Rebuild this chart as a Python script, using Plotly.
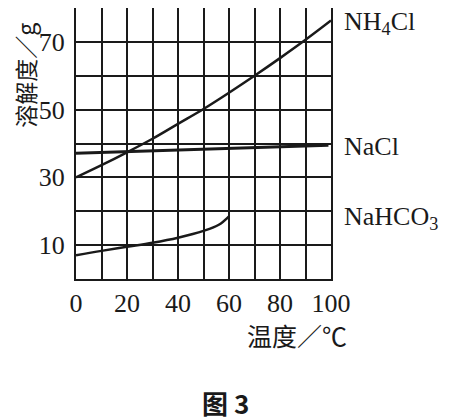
import plotly.graph_objects as go

# temperature (°C) and solubility (g)
t_nh4cl = [0, 10, 20, 30, 40, 50, 60, 70, 80, 90, 100]
s_nh4cl = [30.0, 33.6, 37.4, 41.4, 45.8, 50.2, 55.0, 60.0, 65.2, 70.6, 76.3]

t_nacl = [0, 25, 50, 75, 99]
s_nacl = [37.1, 37.7, 38.3, 38.9, 39.5]

t_nahco3 = [0, 10, 20, 30, 40, 50, 56, 60]
s_nahco3 = [7.0, 8.3, 9.5, 10.7, 12.2, 14.2, 16.0, 18.5]

x_ticks = list(range(0, 101, 10))
x_labels = ["0", "", "20", "", "40", "", "60", "", "80", "", "100"]
y_ticks = list(range(0, 81, 10))
y_labels = ["", "10", "", "30", "", "50", "", "70", ""]

INK = "#1a1a1a"
SERIF = "Liberation Serif"
CJK = "Noto Sans CJK SC"

fig = go.Figure()
fig.add_trace(go.Scatter(x=t_nh4cl, y=s_nh4cl, mode="lines",
                         line=dict(color=INK, width=2.5, shape="spline")))
fig.add_trace(go.Scatter(x=t_nacl, y=s_nacl, mode="lines",
                         line=dict(color=INK, width=3)))
fig.add_trace(go.Scatter(x=t_nahco3, y=s_nahco3, mode="lines",
                         line=dict(color=INK, width=2.5, shape="spline")))

axis_common = dict(
    showgrid=True, gridcolor=INK, gridwidth=1.5,
    showline=True, linecolor=INK, linewidth=2, mirror=True,
    zeroline=False, ticks="", automargin=False,
    tickfont=dict(family=SERIF, size=26, color=INK),
)

fig.update_xaxes(range=[0, 100], tickmode="array", tickvals=x_ticks,
                 ticktext=x_labels, ticklabelstandoff=0, **axis_common)
fig.update_yaxes(range=[0, 80], tickmode="array", tickvals=y_ticks,
                 ticktext=y_labels, ticklabelstandoff=4, **axis_common)

labels = [
    ("NH<sub>4</sub>Cl", 75.5),
    ("NaCl", 39.0),
    ("NaHCO<sub>3</sub>", 18.0),
]
annotations = []
for txt, yv in labels:
    annotations.append(dict(text=txt, xref="paper", yref="y", x=1.045, y=yv,
                            xanchor="left", yanchor="middle", showarrow=False,
                            font=dict(family=SERIF, size=26, color=INK)))

annotations += [
    dict(text="溶解度／g", xref="paper", yref="paper", x=-0.2, y=0.75,
         textangle=-90, showarrow=False, xanchor="center", yanchor="middle",
         font=dict(family=CJK, size=23, color=INK)),
    dict(text="温度／℃", xref="paper", yref="paper", x=0.865, y=-0.208,
         showarrow=False, xanchor="center", yanchor="middle",
         font=dict(family=CJK, size=25, color=INK)),
    dict(text="<b>图 3</b>", xref="paper", yref="paper", x=0.588, y=-0.455,
         showarrow=False, xanchor="center", yanchor="middle",
         font=dict(family=CJK, size=26, color=INK)),
]

# page body has an 8px margin, so the figure is a bit smaller than the window
fig.update_layout(
    width=444, height=412,
    margin=dict(l=68, r=121, t=0, b=141),
    plot_bgcolor="white", paper_bgcolor="white",
    showlegend=False,
    annotations=annotations,
)

fig.write_html("out.html")
